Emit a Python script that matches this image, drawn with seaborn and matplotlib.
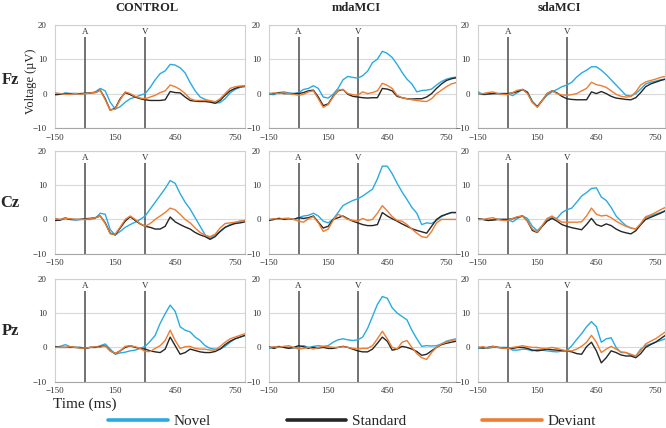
import matplotlib
matplotlib.use('Agg')
import matplotlib.pyplot as plt
from matplotlib.lines import Line2D
import seaborn as sns
import pandas as pd
import numpy as np

# time axis (ms), sampled every 25 ms
times = list(range(-150, 801, 25))

groups = ['CONTROL', 'mdaMCI', 'sdaMCI']
sites = ['Fz', 'Cz', 'Pz']
conditions = ['Novel', 'Standard', 'Deviant']
colors = {'Novel': '#29abe2', 'Standard': '#262626', 'Deviant': '#ed7d31'}

markers = [0, 300]
marker_labels = ['A', 'V']

# Fz
fz_control_novel = [-0.3, -0.2, 0.2, 0.0, 0.0, -0.1, 0.0, 0.2, 0.5, 1.5, 0.8, -2.5, -4.5, -3.8, -2.5, -1.5, -1.0, -0.5, 0.0, 1.8, 4.0, 5.8, 6.6, 8.5, 8.3, 7.5, 6.0, 3.2, 0.8, -1.0, -1.7, -2.2, -2.8, -2.6, -1.5, 0.2, 1.2, 1.8, 2.0]
fz_control_standard = [-0.3, -0.2, 0.0, 0.0, 0.0, 0.0, 0.1, 0.2, 0.3, 1.0, -1.5, -4.8, -4.3, -1.5, 0.3, -0.3, -1.0, -1.5, -1.8, -2.0, -2.0, -2.0, -1.8, 0.6, 0.3, 0.2, -1.0, -2.0, -2.2, -2.3, -2.3, -2.5, -2.8, -2.0, -0.5, 0.8, 1.5, 2.0, 2.2]
fz_control_deviant = [0.2, 0.0, -0.2, -0.2, 0.0, -0.2, 0.0, 0.2, 0.3, 1.0, -1.8, -4.8, -4.5, -1.8, 0.5, 0.0, -0.8, -1.3, -1.5, -1.0, -0.5, 0.3, 0.8, 2.5, 2.0, 1.2, 0.0, -1.5, -2.0, -2.0, -2.0, -2.0, -2.4, -1.5, 0.0, 1.5, 2.0, 2.2, 2.2]

fz_mda_novel = [-0.2, -0.3, 0.3, 0.5, 0.2, 0.0, 0.3, 1.2, 1.5, 2.3, 1.5, -1.0, -1.3, -0.2, 1.5, 4.0, 5.0, 4.7, 4.5, 5.2, 6.5, 9.0, 10.0, 12.3, 11.7, 10.5, 8.5, 6.2, 4.2, 2.8, 0.5, 0.9, 1.0, 1.3, 2.5, 3.5, 4.2, 4.6, 4.8]
fz_mda_standard = [0.0, 0.0, 0.2, 0.0, 0.0, 0.0, 0.0, 0.3, 0.8, 1.0, -1.0, -3.5, -3.0, -0.8, 0.8, 1.2, -0.2, -0.8, -1.0, -1.2, -1.3, -1.2, -1.2, 1.5, 1.3, 0.8, -0.8, -1.2, -1.5, -1.6, -1.5, -1.5, -1.0, 0.0, 1.5, 2.8, 3.8, 4.3, 4.6]
fz_mda_deviant = [0.0, 0.2, 0.0, 0.2, 0.0, -0.2, -0.5, -0.2, 0.5, 0.8, -1.5, -4.0, -3.2, -1.0, 1.0, 1.2, 0.0, -0.3, -0.5, 0.5, 0.0, 0.3, 0.8, 3.0, 2.4, 1.5, -0.5, -1.2, -1.5, -1.8, -2.0, -2.2, -2.3, -1.5, 0.0, 1.0, 2.0, 2.8, 3.2]

fz_sda_novel = [0.5, -0.3, -0.2, 0.0, 0.0, 0.0, 0.0, -0.6, 0.3, 1.2, 0.5, -2.2, -3.8, -2.0, -0.5, 0.5, 1.2, 2.0, 2.5, 3.3, 4.8, 6.0, 6.8, 7.8, 7.8, 6.8, 5.5, 4.0, 2.5, 1.0, -0.5, -0.7, 0.0, 1.3, 2.8, 3.3, 3.6, 4.0, 4.2]
fz_sda_standard = [0.0, -0.2, -0.1, 0.0, 0.0, 0.0, 0.0, 0.2, 0.6, 1.2, 0.3, -2.5, -3.8, -2.0, 0.0, 0.8, 0.2, -0.8, -1.5, -1.7, -1.8, -1.8, -1.8, 0.5, 0.0, 0.6, 0.0, -0.8, -1.3, -1.5, -1.7, -1.8, -1.2, 0.3, 2.0, 2.8, 3.3, 3.8, 4.2]
fz_sda_deviant = [0.0, 0.0, 0.3, 0.5, 0.0, -0.2, -0.3, 0.3, 1.0, 1.2, 0.0, -2.5, -4.0, -2.0, 0.0, 0.8, 0.0, -0.4, -0.5, -0.3, 0.0, 0.8, 1.5, 3.3, 2.6, 2.3, 1.8, 0.8, -0.2, -0.8, -1.0, -0.9, 0.5, 2.5, 3.4, 3.8, 4.2, 4.7, 5.0]

# Cz
cz_control_novel = [-0.3, 0.0, 0.5, 0.0, -0.2, 0.0, 0.0, 0.0, 0.3, 1.8, 1.5, -3.0, -4.5, -3.5, -2.3, -1.5, -0.8, 0.0, 1.0, 3.0, 5.0, 7.0, 9.0, 11.3, 10.5, 7.5, 5.0, 3.0, 0.5, -2.0, -4.5, -5.5, -4.5, -3.5, -2.3, -1.5, -1.0, -0.5, -0.3]
cz_control_standard = [-0.3, -0.2, 0.3, 0.0, 0.0, 0.0, 0.2, 0.3, 0.5, 1.0, -1.0, -4.0, -4.5, -2.5, -0.5, 0.8, -0.3, -1.3, -2.0, -2.3, -2.8, -2.8, -2.0, 0.7, -0.7, -1.5, -2.2, -2.8, -3.8, -4.5, -5.0, -5.8, -5.0, -3.5, -2.3, -1.7, -1.2, -1.0, -0.7]
cz_control_deviant = [0.3, 0.0, 0.3, 0.2, 0.0, 0.0, 0.0, 0.2, 0.5, 1.0, -1.2, -4.2, -4.3, -2.2, 0.0, 1.0, 0.0, -1.2, -2.0, -1.2, 0.0, 1.0, 2.0, 3.3, 2.8, 1.5, 0.0, -1.0, -2.5, -3.8, -4.6, -5.0, -4.3, -2.5, -1.2, -1.0, -0.8, -0.5, -0.3]

cz_mda_novel = [0.0, 0.0, 0.3, 0.2, 0.3, 0.0, 0.5, 1.0, 1.2, 1.8, 1.0, -0.5, -1.0, 0.0, 2.0, 4.0, 4.8, 5.5, 6.0, 6.8, 7.8, 8.8, 11.8, 15.5, 15.5, 13.3, 10.5, 8.0, 5.8, 3.5, 1.8, -1.5, -1.0, -1.2, -0.3, 0.8, 1.5, 2.0, 2.0]
cz_mda_standard = [-0.3, 0.0, 0.3, 0.0, 0.2, 0.0, 0.5, 0.3, 0.5, 1.0, -0.8, -2.5, -2.0, 0.0, 0.5, 1.0, 0.2, -0.5, -1.0, -1.5, -1.8, -1.8, -1.5, 2.0, 1.0, 0.2, -0.5, -1.3, -2.0, -2.7, -3.2, -3.6, -4.0, -2.0, 0.0, 1.0, 1.5, 2.0, 2.0]
cz_mda_deviant = [0.0, 0.2, 0.0, 0.3, 0.3, 0.0, -0.5, -0.8, 0.2, 0.8, -1.0, -3.5, -2.8, -0.3, 1.5, 0.8, 0.0, -0.3, -0.5, 0.3, -0.3, 0.0, 1.8, 4.0, 2.5, 0.8, -0.3, -0.5, -1.5, -2.8, -4.0, -5.0, -5.3, -3.5, -1.0, 0.0, 0.0, 0.0, 0.0]

cz_sda_novel = [0.0, 0.0, -0.3, 0.0, 0.0, 0.0, 0.0, -0.7, 0.3, 1.0, 0.3, -2.0, -3.3, -1.8, 0.0, 0.5, 0.3, 2.0, 2.8, 3.3, 5.0, 6.8, 7.8, 9.0, 9.2, 6.5, 5.5, 3.5, 1.0, -0.5, -1.8, -2.5, -2.8, -1.5, 0.5, 1.0, 1.5, 2.0, 2.5]
cz_sda_standard = [0.2, 0.0, -0.3, -0.2, 0.0, 0.0, 0.0, 0.2, 0.7, 1.0, -0.5, -3.2, -3.8, -2.0, -0.5, 0.3, -0.5, -1.5, -2.0, -2.4, -2.7, -3.0, -1.5, 0.3, -1.5, -2.0, -1.3, -1.8, -2.8, -3.5, -3.9, -4.2, -3.3, -1.5, 0.0, 0.6, 1.2, 1.8, 2.5]
cz_sda_deviant = [0.0, 0.0, 0.3, 0.5, 0.0, -0.3, -0.3, 0.3, 0.8, 1.0, -0.5, -2.8, -3.7, -1.8, 0.3, 1.0, 0.0, -0.8, -0.8, -0.8, -0.8, -0.7, 1.0, 3.3, 1.5, 1.0, 1.2, 0.5, -0.5, -1.3, -2.0, -2.5, -2.8, -1.2, 0.8, 1.3, 2.0, 2.8, 3.5]

# Pz
pz_control_novel = [0.0, 0.3, 0.8, 0.2, 0.0, -0.2, -0.3, 0.0, 0.0, 0.5, 1.0, -0.5, -2.0, -1.6, -1.4, -1.0, -0.8, -0.3, 0.3, 1.8, 3.5, 7.0, 9.8, 12.3, 10.5, 6.0, 5.0, 4.5, 3.0, 2.0, 0.5, -0.3, -0.5, -0.5, 0.3, 1.5, 2.5, 3.0, 3.5]
pz_control_standard = [0.2, 0.0, 0.0, 0.0, 0.0, 0.0, -0.3, 0.0, 0.0, 0.2, 0.5, -1.0, -1.8, -1.0, 0.0, 0.5, 0.0, -0.3, -0.5, -1.0, -1.3, -1.5, -0.5, 3.0, 0.5, -2.0, -1.5, -0.5, -0.9, -1.3, -1.5, -1.5, -1.2, -0.5, 0.8, 1.8, 2.5, 3.0, 3.5]
pz_control_deviant = [0.0, 0.0, 0.0, 0.2, 0.0, -0.2, -0.2, 0.0, 0.2, 0.0, 0.5, -1.0, -1.8, -1.0, 0.3, 0.5, 0.2, -0.3, -1.2, -1.2, -0.3, 0.5, 2.0, 5.0, 2.0, -0.3, 0.2, 0.3, -0.3, -0.5, -0.5, -0.8, -0.8, 0.3, 1.5, 2.5, 3.0, 3.5, 4.0]

pz_mda_novel = [-0.3, 0.0, 0.3, 0.0, 0.0, -0.2, 0.0, 0.5, 0.0, 0.3, 0.5, 0.3, 0.5, 1.5, 2.2, 2.5, 2.2, 2.0, 2.2, 3.0, 5.5, 9.0, 12.5, 14.8, 14.3, 11.5, 10.0, 9.0, 8.0, 5.0, 2.5, 0.3, 0.5, 0.4, 0.5, 1.0, 1.8, 2.2, 2.5]
pz_mda_standard = [0.2, -0.3, 0.2, 0.0, -0.3, 0.0, 0.5, 0.2, -0.3, 0.0, -0.2, 0.0, -0.3, -0.3, 0.0, 0.3, 0.0, -0.5, -1.0, -1.3, -1.3, -0.5, 1.2, 3.0, 1.8, -0.8, -0.5, 0.3, 0.0, -0.5, -1.2, -2.3, -2.0, -1.0, 0.0, 0.8, 1.2, 1.5, 1.8]
pz_mda_deviant = [0.0, 0.2, 0.0, 0.3, 0.5, 0.0, -0.5, -0.3, 0.0, -0.5, 0.0, 0.3, 0.2, 0.0, 0.0, 0.2, 0.0, -0.3, -0.5, -0.3, -0.3, 0.5, 2.5, 4.7, 2.5, 0.0, -0.5, 1.5, 2.0, 0.0, -1.8, -3.0, -3.5, -1.5, 0.0, 1.0, 1.5, 2.0, 2.2]

pz_sda_novel = [-0.3, 0.0, -0.3, 0.0, 0.0, 0.0, 0.0, -0.8, -0.8, -0.5, -0.6, -1.0, -0.6, -0.8, -1.0, -1.2, -1.3, -1.1, -1.0, 0.5, 2.3, 4.0, 6.0, 7.5, 6.0, 1.5, 2.5, 2.8, 0.0, -1.5, -1.5, -2.3, -2.5, -0.5, 0.5, 1.0, 1.5, 2.0, 2.5]
pz_sda_standard = [0.0, -0.2, 0.0, 0.3, 0.0, -0.2, -0.2, -0.3, 0.0, 0.0, -0.3, -0.8, -1.0, -0.8, -0.5, -0.7, -0.8, -0.9, -1.0, -1.3, -1.8, -2.0, 0.2, 1.5, -1.0, -4.5, -3.0, -1.0, -1.5, -2.2, -2.5, -2.5, -3.0, -1.8, 0.0, 0.8, 1.5, 2.5, 3.5]
pz_sda_deviant = [0.0, 0.2, -0.2, 0.3, 0.0, -0.2, -0.3, 0.0, 0.2, 0.5, 0.2, 0.0, 0.0, -0.3, -0.3, 0.0, -0.3, -0.7, -1.0, -1.0, -0.5, 0.3, 1.5, 3.5, 1.5, -1.5, -0.5, 0.3, -0.5, -1.3, -1.5, -2.0, -2.5, -1.0, 1.0, 1.8, 2.5, 3.5, 4.5]

waves = {
    ('Fz', 'CONTROL'): [fz_control_novel, fz_control_standard, fz_control_deviant],
    ('Fz', 'mdaMCI'): [fz_mda_novel, fz_mda_standard, fz_mda_deviant],
    ('Fz', 'sdaMCI'): [fz_sda_novel, fz_sda_standard, fz_sda_deviant],
    ('Cz', 'CONTROL'): [cz_control_novel, cz_control_standard, cz_control_deviant],
    ('Cz', 'mdaMCI'): [cz_mda_novel, cz_mda_standard, cz_mda_deviant],
    ('Cz', 'sdaMCI'): [cz_sda_novel, cz_sda_standard, cz_sda_deviant],
    ('Pz', 'CONTROL'): [pz_control_novel, pz_control_standard, pz_control_deviant],
    ('Pz', 'mdaMCI'): [pz_mda_novel, pz_mda_standard, pz_mda_deviant],
    ('Pz', 'sdaMCI'): [pz_sda_novel, pz_sda_standard, pz_sda_deviant],
}

rows = []
for (site, group), series in waves.items():
    for cond, vals in zip(conditions, series):
        for t, v in zip(times, vals):
            rows.append({'site': site, 'group': group, 'condition': cond, 'time': t, 'uV': v})
df = pd.DataFrame(rows)

sns.set_style('white')
plt.rcParams['font.family'] = ['Liberation Serif', 'DejaVu Serif']

fig = plt.figure(figsize=(6.66, 4.28), dpi=100)
lefts = [0.083, 0.404, 0.718]
widths = [0.285, 0.281, 0.281]
bottoms = [0.701, 0.407, 0.108]
height = 0.241

for i, site in enumerate(sites):
    for j, group in enumerate(groups):
        ax = fig.add_axes([lefts[j], bottoms[i], widths[j], height])
        sub = df[(df.site == site) & (df.group == group)]
        ax.set_axisbelow(True)
        ax.yaxis.grid(True, color='#d9d9d9', lw=0.8)
        ax.vlines(markers, -10, 16.5, color='#5a5a5a', lw=1.2, zorder=1)
        for m, lab in zip(markers, marker_labels):
            ax.text(m, 18.0, lab, ha='center', va='center', fontsize=6.5, color='#333333')
        sns.lineplot(data=sub, x='time', y='uV', hue='condition', hue_order=conditions,
                     palette=colors, linewidth=1.0, legend=False, ax=ax, zorder=3)
        ax.set_xlim(-150, 800)
        ax.set_ylim(-10, 20)
        ax.set_xticks([-150, 150, 450, 750])
        ax.set_xticks(np.arange(-150, 801, 50), minor=True)
        ax.set_yticks([-10, 0, 10, 20])
        ax.tick_params(axis='x', which='both', direction='in', length=3, color='#a6a6a6',
                       labelsize=6.5, labelcolor='#333333', pad=4)
        ax.tick_params(axis='y', length=0, labelsize=6.5, labelcolor='#333333', pad=6)
        ax.set_xlabel('')
        ax.set_ylabel('')
        for sp in ax.spines.values():
            sp.set_color('#d0d0d0')
            sp.set_linewidth(0.8)
        ax.spines['bottom'].set_color('#a6a6a6')

# column titles
title_x = [147, 356, 559]
for g, x in zip(groups, title_x):
    fig.text(x / 666, 1 - 8 / 428, g, ha='center', va='center', fontsize=9, fontweight='bold')

# row labels
row_y = [80, 203, 331]
for s, y in zip(sites, row_y):
    fig.text(10 / 666, 1 - y / 428, s, ha='center', va='center', fontsize=12, fontweight='bold')

fig.text(31 / 666, 1 - 81 / 428, 'Voltage (\u00b5V)', rotation=90, ha='center', va='center', fontsize=9)
fig.text(53 / 666, 1 - 404 / 428, 'Time (ms)', ha='left', va='center', fontsize=11)

handles = [Line2D([0], [0], color=colors[c], lw=2.6) for c in conditions]
fig.legend(handles, conditions, loc='center', bbox_to_anchor=(352 / 666, 1 - 421 / 428),
           ncol=3, frameon=False, fontsize=11, handlelength=3.9, handletextpad=0.35,
           columnspacing=5.0, borderpad=0)

fig.savefig('out.png', dpi=100)
